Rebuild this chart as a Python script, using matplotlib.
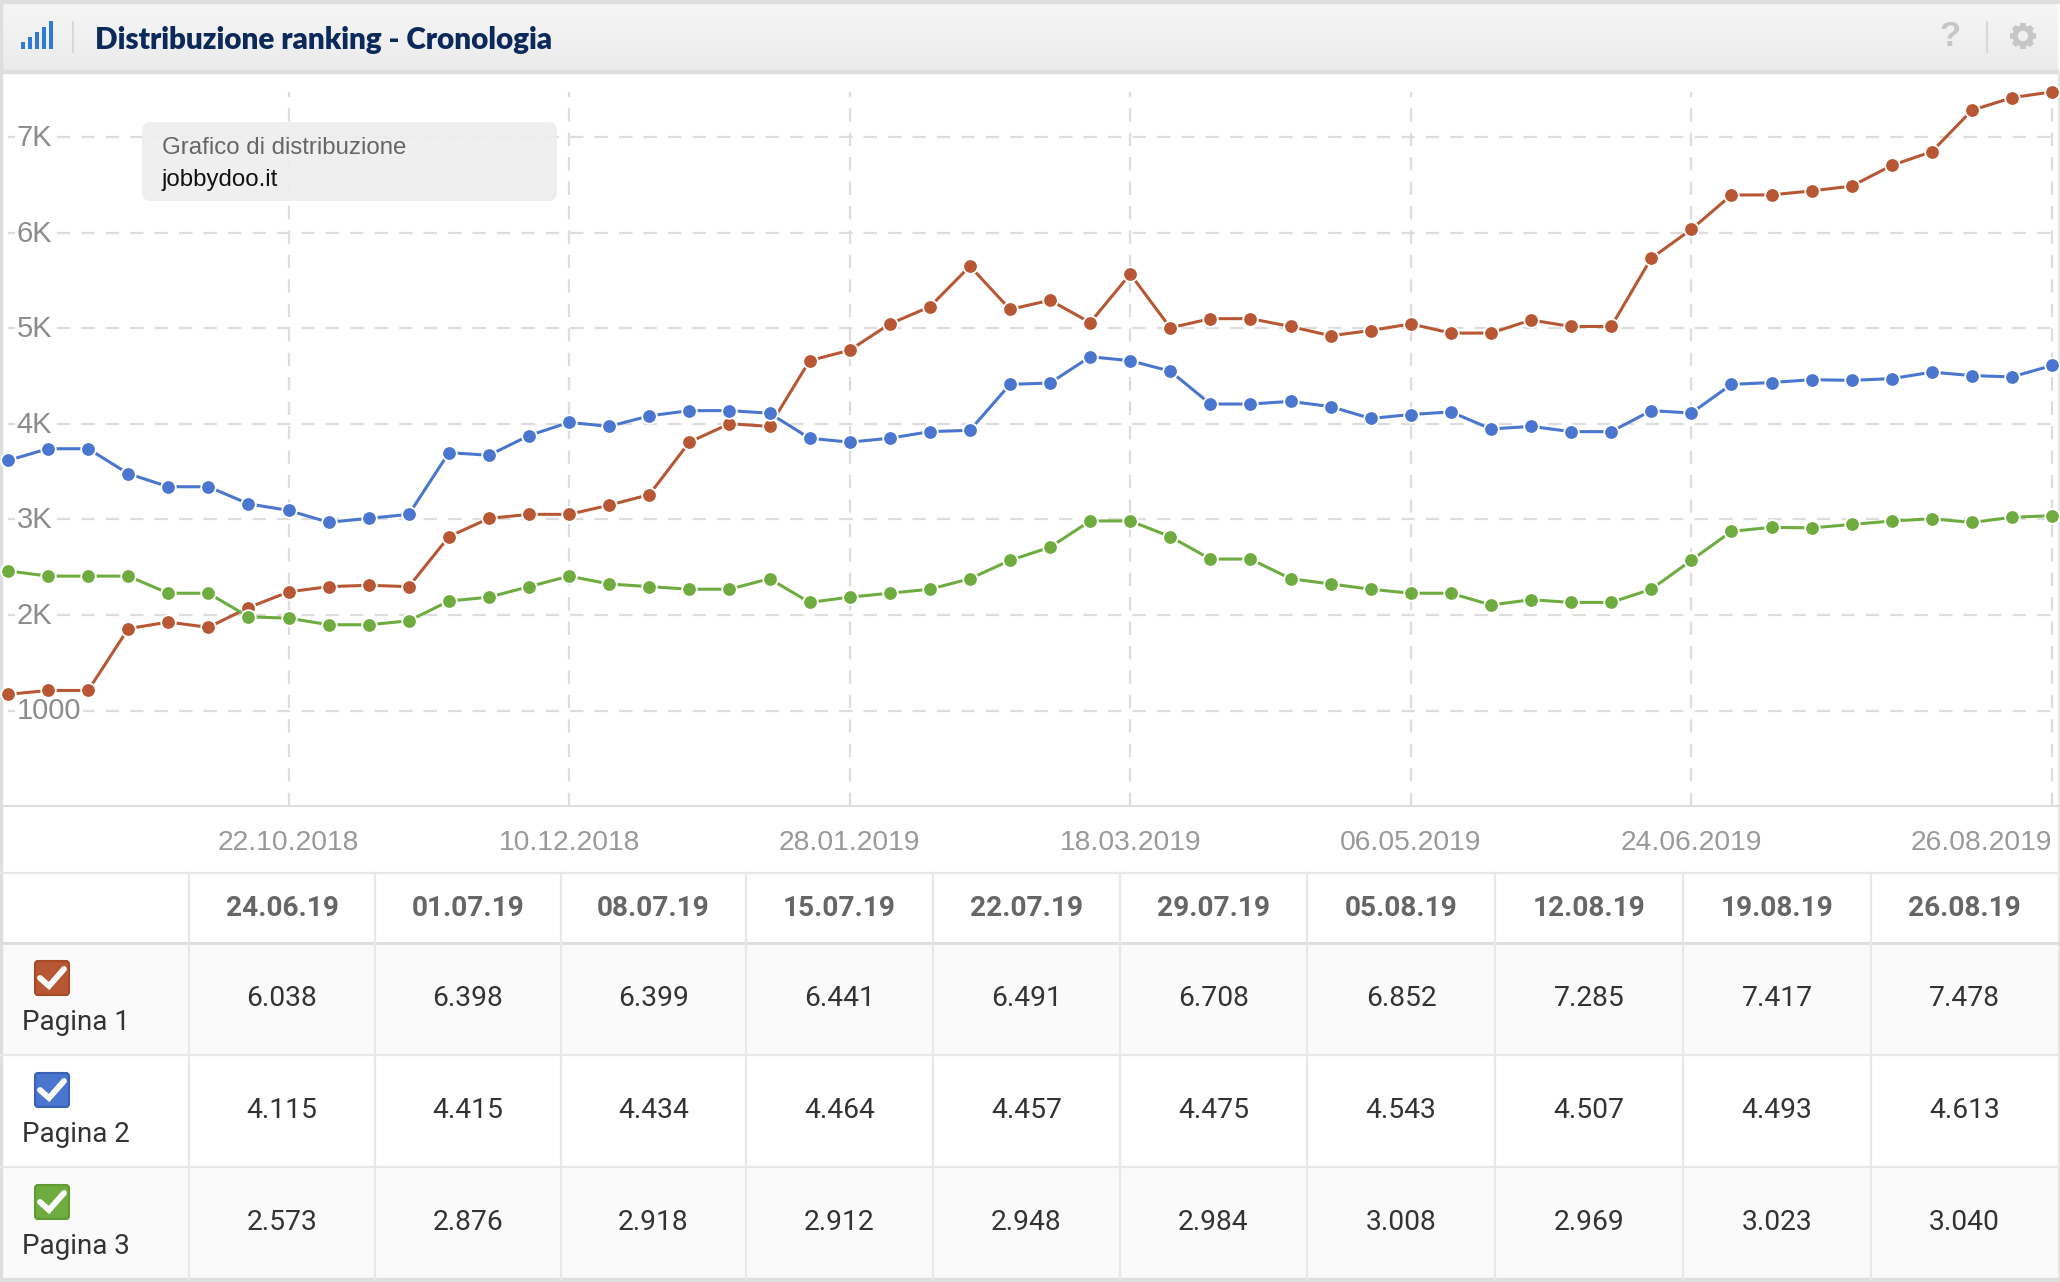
import numpy as np
from matplotlib import pyplot as plt
from matplotlib.colors import LinearSegmentedColormap
from matplotlib.patches import Rectangle, FancyBboxPatch, Circle
from matplotlib.transforms import ScaledTranslation

# series, 03.09.2018 -> 17.06.2019, weekly
page1_history = [1169, 1210, 1210, 1857, 1926, 1871, 2077, 2242, 2297, 2311, 2297, 2820, 3012, 3054,
                 3054, 3150, 3260, 3810, 4003, 3975, 4663, 4773, 5048, 5227, 5653, 5200, 5296, 5062,
                 5571, 5007, 5103, 5103, 5021, 4924, 4979, 5048, 4952, 4952, 5089, 5021, 5021, 5736]
page2_history = [3618, 3741, 3741, 3480, 3343, 3343, 3164, 3095, 2971, 3012, 3054, 3700, 3673, 3879,
                 4017, 3975, 4085, 4140, 4140, 4113, 3851, 3810, 3851, 3920, 3934, 4415, 4429, 4704,
                 4663, 4553, 4209, 4209, 4237, 4182, 4058, 4099, 4127, 3948, 3975, 3920, 3920, 4140]
page3_history = [2462, 2407, 2407, 2407, 2228, 2228, 1981, 1967, 1898, 1898, 1939, 2146, 2187, 2297,
                 2407, 2325, 2297, 2270, 2270, 2380, 2132, 2187, 2228, 2270, 2380, 2572, 2710, 2985,
                 2985, 2820, 2586, 2586, 2380, 2325, 2270, 2228, 2228, 2105, 2160, 2132, 2132, 2270]

# last ten weeks, these are the table values
table_dates = ["24.06.19", "01.07.19", "08.07.19", "15.07.19", "22.07.19",
               "29.07.19", "05.08.19", "12.08.19", "19.08.19", "26.08.19"]
page1_table = [6038, 6398, 6399, 6441, 6491, 6708, 6852, 7285, 7417, 7478]
page2_table = [4115, 4415, 4434, 4464, 4457, 4475, 4543, 4507, 4493, 4613]
page3_table = [2573, 2876, 2918, 2912, 2948, 2984, 3008, 2969, 3023, 3040]

x_ticks = [7, 14, 21, 28, 35, 42, 51]
x_labels = ["22.10.2018", "10.12.2018", "28.01.2019", "18.03.2019", "06.05.2019", "24.06.2019", "26.08.2019"]
y_ticks = [1000, 2000, 3000, 4000, 5000, 6000, 7000]
y_labels = ["1000", "2K", "3K", "4K", "5K", "6K", "7K"]

names = ["Pagina 1", "Pagina 2", "Pagina 3"]
line_colors = ["#b85733", "#4a76cf", "#6fac3f"]
edge_colors = ["#a64a26", "#3a62b4", "#5f9a32"]
page_values = [page1_table, page2_table, page3_table]
page_series = [page1_history + page1_table, page2_history + page2_table, page3_history + page3_table]

W, H = 2060, 1282
SANS = "Liberation Sans"

fig = plt.figure(figsize=(W / 100, H / 100), dpi=100, facecolor="white")

# pixel coordinate layers, one behind the chart and one on top
back = fig.add_axes([0, 0, 1, 1], zorder=0)
front = fig.add_axes([0, 0, 1, 1], zorder=2)
for a in (back, front):
    a.set_xlim(0, W)
    a.set_ylim(H, 0)
    a.axis("off")

# header
header_cmap = LinearSegmentedColormap.from_list("header", ["#f6f6f6", "#ebebeb"])
grad = np.linspace(0, 1, 64).reshape(-1, 1)
back.imshow(grad, extent=(2, W - 2, 70, 3), cmap=header_cmap, aspect="auto", zorder=1)
back.set_xlim(0, W)
back.set_ylim(H, 0)
back.add_patch(Rectangle((0, 70), W, 2.5, color="#dedede", zorder=2))
back.add_patch(Rectangle((0, 0), W, 2.5, color="#dedede", zorder=2))
back.add_patch(Rectangle((0, 0), 2, H, color="#dedede", zorder=2))
back.add_patch(Rectangle((W - 2, 70), 2, H, color="#e6e6e6", zorder=2))
back.add_patch(Rectangle((0, H - 4), W, 4, color="#dedede", zorder=2))

# signal icon
for i, top in enumerate([42, 37, 32, 27, 21]):
    back.add_patch(Rectangle((21 + i * 7, top), 4.2, 49 - top, fc="#2f7ad6", ec="none", zorder=3))
back.plot([73, 73], [22, 52], color="#d8d8d8", lw=1.5, zorder=3)
back.plot([1987, 1987], [22, 52], color="#d8d8d8", lw=1.5, zorder=3)
back.text(95, 40, "Distribuzione ranking - Cronologia", family="Lato", weight="heavy", fontsize=21.3,
          color="#0b2a5b", va="center", ha="left", zorder=3)
back.text(1950, 36, "?", family=SANS, weight="bold", fontsize=25, color="#c6c6c6", va="center", ha="center", zorder=3)

# gear
for ang in np.arange(0, 360, 45):
    c, s = np.cos(np.radians(ang)), np.sin(np.radians(ang))
    back.plot([2023 + 8 * c, 2023 + 13 * c], [36 + 8 * s, 36 + 13 * s], color="#c6c6c6", lw=4,
              solid_capstyle="butt", zorder=3)
back.add_patch(Circle((2023, 36), 10, color="#c6c6c6", zorder=3))
back.add_patch(Circle((2023, 36), 4.5, color="#f0f0f0", zorder=4))

# chart
PX_ZERO, PX_TOP, PX_K = 806, 72, 95.5
X0, DX = 8, 40.08
ax = fig.add_axes([0, (H - PX_ZERO) / H, 1, (PX_ZERO - PX_TOP) / H], zorder=1)
ax.patch.set_alpha(0)
ax.set_xlim(-X0 / DX, (W - X0) / DX)
ax.set_ylim(0, (PX_ZERO - PX_TOP) / PX_K * 1000)
for s in ax.spines.values():
    s.set_visible(False)
ax.spines["bottom"].set_visible(True)
ax.spines["bottom"].set_color("#dedede")
ax.spines["bottom"].set_linewidth(1.5)

ax.set_axisbelow(True)
ax.set_yticks(y_ticks)
ax.set_yticklabels(y_labels, family=SANS, fontsize=21, color="#8c8c8c", ha="left",
                   bbox=dict(facecolor="white", edgecolor="none", pad=1.5))
ax.tick_params(axis="y", length=0, pad=-12)
# labels sit a little above their grid line
up = ScaledTranslation(0, 2 / 100, fig.dpi_scale_trans)
for lab in ax.get_yticklabels():
    lab.set_transform(lab.get_transform() + up)
ax.set_xticks(x_ticks)
ax.set_xticklabels(x_labels, family=SANS, fontsize=20.3, color="#999999")
ax.tick_params(axis="x", length=0, pad=17.5)
ax.get_xticklabels()[-1].set_ha("right")

dash = (0, (6, 5))
ax.hlines(y_ticks, 0, 51, color="#dddddd", lw=1.6, linestyle=dash, zorder=0.5)
ax.vlines(x_ticks, 0, (PX_ZERO - 92) / PX_K * 1000, color="#dddddd", lw=1.6, linestyle=dash, zorder=0.5)

for series, color in zip(page_series, line_colors):
    ax.plot(range(len(series)), series, color=color, lw=2.2, marker="o", ms=10.5, mfc=color, mec="white",
            mew=1.3, clip_on=False)

# tooltip
front.add_patch(FancyBboxPatch((150, 130), 399, 63, boxstyle="round,pad=8,rounding_size=9",
                               fc="#eeeeee", ec="none", alpha=0.93))
front.text(162, 148, "Grafico di distribuzione", family=SANS, fontsize=17.3, color="#666666", va="center")
front.text(162, 180, "jobbydoo.it", family=SANS, fontsize=17.3, color="#111111", va="center")

# table
col_edges = [189, 375, 561, 746, 933, 1120, 1307, 1495, 1683, 1871, 2058]
row_edges = [943, 1055, 1167, 1279]
TABLE_TOP = 873

for r in (0, 2):
    back.add_patch(Rectangle((2, row_edges[r]), W - 4, row_edges[r + 1] - row_edges[r], color="#fafafa", zorder=1))
back.plot([0, W], [TABLE_TOP, TABLE_TOP], color="#e8e8e8", lw=1.6, zorder=2)
back.plot([0, W], [row_edges[0], row_edges[0]], color="#dddddd", lw=2, zorder=2)
for y in row_edges[1:3]:
    back.plot([0, W], [y, y], color="#e8e8e8", lw=1.6, zorder=2)
for x in col_edges[:-1]:
    back.plot([x, x], [TABLE_TOP, H - 3], color="#e8e8e8", lw=1.6, zorder=2)

for c, d in enumerate(table_dates):
    xc = (col_edges[c] + col_edges[c + 1]) / 2
    back.text(xc, 909, d, family="Roboto", weight="bold", fontsize=20.2, color="#666666", ha="center", va="center", zorder=3)

for r, (name, vals, color, edge) in enumerate(zip(names, page_values, line_colors, edge_colors)):
    top = row_edges[r]
    for c, v in enumerate(vals):
        xc = (col_edges[c] + col_edges[c + 1]) / 2
        back.text(xc, top + 56, f"{v:,}".replace(",", "."), family="Roboto", fontsize=20.3, color="#333333",
                  ha="center", va="center", zorder=3)
    back.text(22, top + 80, name, family="Roboto", fontsize=20, color="#333333", ha="left", va="center", zorder=3)
    front.add_patch(FancyBboxPatch((36, top + 19), 32, 32, boxstyle="round,pad=1,rounding_size=3",
                                   fc=color, ec=edge, lw=1.5))
    front.plot([40, 49, 64], [top + 35, top + 43, top + 26], color="white", lw=4.2, solid_capstyle="round",
               solid_joinstyle="miter")

fig.savefig("out.png", dpi=100)
